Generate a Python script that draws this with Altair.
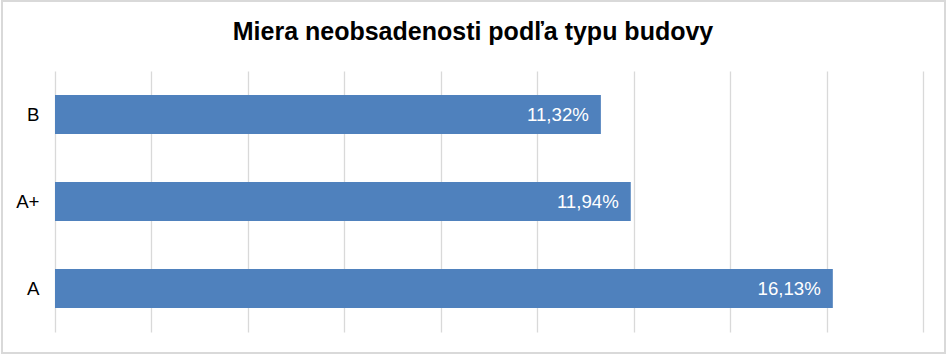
import altair as alt
import pandas as pd

categories = ["B", "A+", "A"]
values = [11.32, 11.94, 16.13]
title_text = "Miera neobsadenosti podľa typu budovy"

df = pd.DataFrame({
    "typ": categories,
    "hodnota": values,
    "label": [f"{v:.2f}%".replace(".", ",") for v in values],
})
title_df = pd.DataFrame({"t": [title_text]})

W, H = 868, 261
FONT = "Liberation Sans"

x_enc = alt.X(
    "hodnota:Q",
    scale=alt.Scale(domain=[0, 18], nice=False),
    axis=alt.Axis(
        values=list(range(0, 19, 2)), labels=False, ticks=False, domain=False,
        grid=True, gridColor="#D9D9D9", gridWidth=1.3, title=None,
    ),
)
y_enc = alt.Y(
    "typ:N",
    sort=categories,
    scale=alt.Scale(paddingInner=0.55, paddingOuter=0.275),
    axis=alt.Axis(
        ticks=False, domain=False, grid=False, title=None, labelFont=FONT,
        labelFontSize=18.67, labelColor="#000000", labelPadding=16,
    ),
)

bars = alt.Chart(df).mark_bar(color="#4F81BD").encode(x=x_enc, y=y_enc)
labels = alt.Chart(df).mark_text(
    align="right", baseline="middle", dx=-12, color="white", font=FONT, fontSize=18.67,
).encode(x="hodnota:Q", y=alt.Y("typ:N", sort=categories), text="label:N")

border = alt.Chart(df).mark_rect(
    fill=None, stroke="#D9D9D9", strokeWidth=2, clip=False,
).encode(
    x=alt.value(-53), x2=alt.value(W + 22), y=alt.value(-70), y2=alt.value(H + 21),
)

title = alt.Chart(title_df).mark_text(
    align="center", baseline="alphabetic", font=FONT, fontSize=25, fontWeight="bold",
    color="#000000", clip=False,
).encode(x=alt.value(418), y=alt.value(-31), text="t:N")

chart = (
    alt.layer(border, bars, labels, title)
    .properties(
        width=W, height=H,
        background="white",
        autosize=alt.AutoSizeParams(type="none"),
        padding={"left": 55, "top": 71, "right": 24, "bottom": 24},
    )
    .configure_view(strokeWidth=0, stroke="transparent")
    .configure_axis(domain=False)
)

chart.save("out.html", embed_options={"renderer": "svg", "actions": False})
